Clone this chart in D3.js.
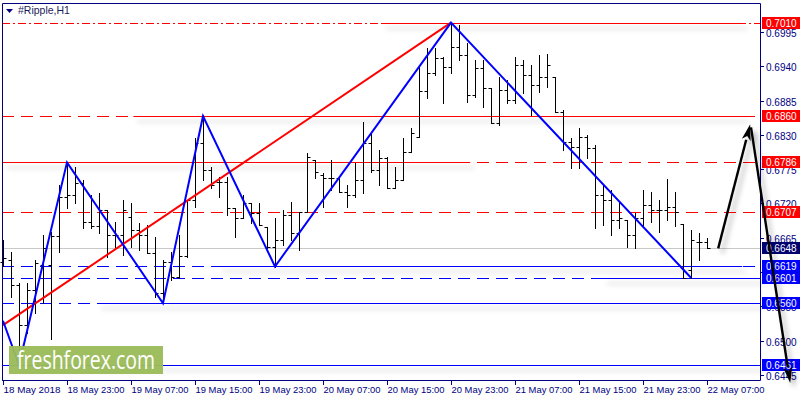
<!DOCTYPE html>
<html lang="en">
<head>
<meta charset="UTF-8">
<title>#Ripple,H1</title>
<script src="https://d3js.org/d3.v7.min.js"></script>
<style>
  body { margin: 0; background: #fff; }
  text { font-family: "Liberation Sans", Arial, sans-serif; }
</style>
</head>
<body>
<script>
// hourly bars, 18 May 15:00 .. 22 May 07:00
var timeLabels = ["18 May 2018", "18 May 23:00", "19 May 07:00", "19 May 15:00", "19 May 23:00", "20 May 07:00",
                  "20 May 15:00", "20 May 23:00", "21 May 07:00", "21 May 15:00", "21 May 23:00", "22 May 07:00"];

var opens = [0.6626,0.6629,0.6589,0.6525,0.6581,0.6621,0.6621,0.6668,0.6731,0.6734,
             0.6753,0.6690,0.6684,0.6710,0.6670,0.6670,0.6698,0.6678,0.6670,0.6641,
             0.6576,0.6626,0.6602,0.6636,0.6726,0.6817,0.6774,0.6755,0.6755,0.6713,
             0.6697,0.6721,0.6705,0.6682,0.6650,0.6661,0.6702,0.6673,0.6707,0.6790,
             0.6766,0.6761,0.6761,0.6739,0.6734,0.6758,0.6817,0.6774,0.6793,0.6745,
             0.6758,0.6803,0.6827,0.6900,0.6929,0.6953,0.6939,0.6971,0.6958,0.6894,
             0.6937,0.6905,0.6849,0.6902,0.6886,0.6942,0.6926,0.6910,0.6923,0.6923,
             0.6867,0.6819,0.6811,0.6827,0.6809,0.6734,0.6726,0.6694,0.6694,0.6670,
             0.6697,0.6718,0.6710,0.6710,0.6715,0.6687,0.6613,0.6658,0.6658];
var highs = [0.6661,0.6642,0.6592,0.6592,0.6629,0.6670,0.6674,0.6750,0.6785,0.6779,
             0.6758,0.6734,0.6737,0.6710,0.6690,0.6726,0.6721,0.6689,0.6686,0.6666,
             0.6629,0.6642,0.6670,0.6726,0.6825,0.6862,0.6779,0.6763,0.6763,0.6713,
             0.6734,0.6721,0.6721,0.6682,0.6697,0.6710,0.6723,0.6707,0.6801,0.6790,
             0.6769,0.6790,0.6763,0.6750,0.6785,0.6851,0.6833,0.6806,0.6795,0.6779,
             0.6825,0.6841,0.6942,0.6969,0.6969,0.6955,0.7010,0.7006,0.6977,0.6950,
             0.6950,0.6905,0.6923,0.6918,0.6955,0.6950,0.6942,0.6958,0.6960,0.6923,
             0.6870,0.6825,0.6841,0.6830,0.6814,0.6750,0.6742,0.6723,0.6694,0.6705,
             0.6742,0.6739,0.6726,0.6760,0.6739,0.6687,0.6678,0.6673,0.6665];
var lows =  [0.6620,0.6570,0.6461,0.6512,0.6544,0.6560,0.6503,0.6642,0.6713,0.6721,
             0.6681,0.6681,0.6673,0.6634,0.6650,0.6637,0.6650,0.6645,0.6641,0.6570,
             0.6560,0.6597,0.6600,0.6634,0.6715,0.6758,0.6745,0.6731,0.6702,0.6666,
             0.6697,0.6689,0.6686,0.6649,0.6618,0.6653,0.6661,0.6645,0.6707,0.6761,
             0.6715,0.6742,0.6739,0.6715,0.6731,0.6737,0.6771,0.6750,0.6745,0.6745,
             0.6758,0.6803,0.6827,0.6889,0.6926,0.6881,0.6929,0.6950,0.6883,0.6891,
             0.6875,0.6849,0.6846,0.6881,0.6881,0.6897,0.6862,0.6899,0.6907,0.6867,
             0.6806,0.6777,0.6777,0.6793,0.6681,0.6686,0.6670,0.6681,0.6650,0.6649,
             0.6682,0.6690,0.6674,0.6694,0.6684,0.6600,0.6600,0.6629,0.6648];
var closes = [0.6633,0.6589,0.6525,0.6581,0.6625,0.6649,0.6668,0.6731,0.6734,0.6753,
              0.6690,0.6684,0.6710,0.6670,0.6670,0.6710,0.6678,0.6670,0.6641,0.6576,
              0.6626,0.6602,0.6636,0.6726,0.6817,0.6774,0.6750,0.6755,0.6713,0.6697,
              0.6721,0.6705,0.6686,0.6650,0.6661,0.6702,0.6673,0.6707,0.6795,0.6771,
              0.6761,0.6761,0.6739,0.6734,0.6758,0.6817,0.6774,0.6793,0.6745,0.6758,
              0.6803,0.6833,0.6900,0.6929,0.6953,0.6939,0.6971,0.6958,0.6894,0.6937,
              0.6905,0.6849,0.6902,0.6886,0.6942,0.6926,0.6910,0.6923,0.6942,0.6867,
              0.6819,0.6811,0.6827,0.6809,0.6734,0.6726,0.6694,0.6697,0.6670,0.6697,
              0.6718,0.6710,0.6710,0.6715,0.6707,0.6600,0.6661,0.6658,0.6648];

var priceTicks = [0.6445, 0.6500, 0.6555, 0.6610, 0.6665, 0.6720, 0.6775, 0.6830, 0.6885, 0.6940, 0.6995];

// horizontal levels; solid part given in bar units (time anchors of the trendline)
var levelPrices    = [0.7010, 0.6860, 0.6786, 0.6707, 0.6619, 0.6601, 0.6560, 0.6461];
var levelSide      = ["res", "res", "res", "res", "sup", "sup", "sup", "sup"];
var levelSolidFrom = [47.4, 16.3, -0.2, null, 26.9, 75.0, 11.8, -0.2];
var levelSolidTo   = [92.5, 92.7, 58.4, null, 92.4, 94.7, 94.7, 94.7];
var lastPrice = 0.6648;

// zigzag and trend line
var zigzagBars   = [0, 2, 8, 20, 25, 34, 56, 86];
var zigzagPrices = [0.6532, 0.6461, 0.6786, 0.6560, 0.6860, 0.6619, 0.7010, 0.6601];
var trendBars   = [0, 56];
var trendPrices = [0.6525, 0.7010];

// forecast arrows: [fromBar, fromPrice, toBar, toPrice]
var arrowUp   = [89.4, 0.6648, 93.4, 0.6847];
var arrowDown = [93.5, 0.6842, 98.4, 0.6432];

var W = 800, H = 400;
var plotLeft = 2, plotRight = 760, plotTop = 3, plotBottom = 380;
var navy = "#000080", red = "#ff0000", blue = "#0000ff";

var x = d3.scaleLinear().domain([0, 88]).range([3, 707]);
var y = d3.scaleLinear().domain([0.6445, 0.6995]).range([375, 32]);

var svg = d3.select("body").append("svg")
    .attr("width", W)
    .attr("height", H)
    .style("display", "block");

svg.append("rect").attr("width", W).attr("height", H).attr("fill", "#fff");

var defs = svg.append("defs");
defs.append("filter")
    .attr("id", "shadow")
    .attr("filterUnits", "userSpaceOnUse")
    .attr("x", 0).attr("y", 0).attr("width", W).attr("height", H)
  .append("feDropShadow")
    .attr("dx", 4).attr("dy", 5).attr("stdDeviation", 2.5)
    .attr("flood-color", "#000").attr("flood-opacity", 0.28);

function levelColor(i) { return levelSide[i] === "res" ? red : blue; }

// current price line
svg.append("line")
    .attr("x1", plotLeft).attr("x2", plotRight)
    .attr("y1", Math.round(y(lastPrice)) + 0.5).attr("y2", Math.round(y(lastPrice)) + 0.5)
    .attr("stroke", "#c8c8c8").attr("stroke-width", 1);

// dashed base of each level
levelPrices.forEach(function (p, i) {
    var yy = Math.round(y(p)) + 0.5;
    var dash = i === 0 ? "8,3,2,3" : (i === 7 ? null : "12,7");
    svg.append("line")
        .attr("x1", plotLeft).attr("x2", plotRight)
        .attr("y1", yy).attr("y2", yy)
        .attr("stroke", levelColor(i)).attr("stroke-width", 1)
        .attr("stroke-dasharray", dash);
});

// solid part of the levels, with shadow
levelPrices.forEach(function (p, i) {
    if (levelSolidFrom[i] === null) return;
    var yy = Math.round(y(p)) + 0.5;
    svg.append("line")
        .attr("x1", Math.max(plotLeft, x(levelSolidFrom[i])))
        .attr("x2", Math.min(plotRight, x(levelSolidTo[i])))
        .attr("y1", yy).attr("y2", yy)
        .attr("stroke", levelColor(i)).attr("stroke-width", 1)
        .attr("filter", "url(#shadow)");
});

// bars
var bars = svg.append("g").attr("stroke", "#000").attr("stroke-width", 1);
opens.forEach(function (o, i) {
    var bx = Math.round(x(i)) + 0.5;
    bars.append("line").attr("x1", bx).attr("x2", bx)
        .attr("y1", Math.round(y(highs[i]))).attr("y2", Math.round(y(lows[i])) + 1);
    var yo = Math.round(y(o)) + 0.5, yc = Math.round(y(closes[i])) + 0.5;
    bars.append("line").attr("x1", bx - 3).attr("x2", bx).attr("y1", yo).attr("y2", yo);
    bars.append("line").attr("x1", bx).attr("x2", bx + 3).attr("y1", yc).attr("y2", yc);
});

// trend line and zigzag
svg.append("path")
    .datum(trendBars.map(function (b, i) { return [x(b), y(trendPrices[i])]; }))
    .attr("d", d3.line())
    .attr("fill", "none").attr("stroke", red).attr("stroke-width", 2);

svg.append("path")
    .datum(zigzagBars.map(function (b, i) { return [x(b), y(zigzagPrices[i])]; }))
    .attr("d", d3.line())
    .attr("fill", "none").attr("stroke", blue).attr("stroke-width", 2)
    .attr("stroke-linejoin", "miter");

// logo
var logo = svg.append("g");
logo.append("rect")
    .attr("x", 9).attr("y", 346).attr("width", 154).attr("height", 28)
    .attr("fill", "#9bbb59").attr("opacity", 0.96);
logo.append("text")
    .attr("x", 17).attr("y", 369)
    .attr("fill", "#fff")
    .style("font-family", "'Open Sans', 'DejaVu Sans', sans-serif")
    .style("font-size", "25px")
    .attr("textLength", 138).attr("lengthAdjust", "spacingAndGlyphs")
    .text("freshforex.com");

// frame
svg.append("path")
    .attr("d", "M" + (plotLeft + 0.5) + "," + plotBottom + "V" + (plotTop + 0.5) + "H" + (plotRight + 0.5) +
               "V" + (plotBottom + 0.5) + "H" + plotLeft)
    .attr("fill", "none").attr("stroke", navy).attr("stroke-width", 1);

// right price axis (labels under the level boxes stay hidden, as in the terminal)
var yAxis = svg.append("g");
priceTicks.forEach(function (p) {
    var yy = Math.round(y(p)) + 0.5;
    yAxis.append("line").attr("x1", plotRight).attr("x2", plotRight + 4)
        .attr("y1", yy).attr("y2", yy).attr("stroke", navy);
    yAxis.append("text").attr("x", plotRight + 6).attr("y", yy + 4)
        .attr("fill", navy).style("font-size", "10px")
        .text(p.toFixed(4));
});

// bottom time axis
var xAxis = svg.append("g");
timeLabels.forEach(function (t, k) {
    var tx = Math.round(x(k * 8)) + 0.5;
    xAxis.append("line").attr("x1", tx).attr("x2", tx)
        .attr("y1", plotBottom).attr("y2", plotBottom + 5).attr("stroke", navy);
    xAxis.append("text").attr("x", tx).attr("y", plotBottom + 13)
        .attr("fill", navy).style("font-size", "9.5px")
        .attr("textLength", 57).attr("lengthAdjust", "spacingAndGlyphs")
        .text(t);
});

// price label boxes
function priceBox(p, fill) {
    var yy = Math.round(y(p));
    svg.append("rect").attr("x", plotRight + 2).attr("y", yy - 6)
        .attr("width", W - plotRight - 2).attr("height", 12).attr("fill", fill);
    svg.append("text").attr("x", plotRight + 6).attr("y", yy + 4)
        .attr("fill", "#fff").style("font-size", "10px")
        .text(p.toFixed(4));
}
levelPrices.forEach(function (p, i) { priceBox(p, levelColor(i)); });
priceBox(lastPrice, "#00006e");

// forecast arrows
function arrow(a) {
    var x1 = x(a[0]), y1 = y(a[1]), x2 = x(a[2]), y2 = y(a[3]);
    var ang = Math.atan2(y2 - y1, x2 - x1);
    var len = 16, half = 4.5;
    var bx = x2 - len * Math.cos(ang), by = y2 - len * Math.sin(ang);
    var g = svg.append("g").attr("filter", "url(#shadow)");
    g.append("line").attr("x1", x1).attr("y1", y1).attr("x2", bx).attr("y2", by)
        .attr("stroke", "#000").attr("stroke-width", 2.4);
    g.append("path")
        .attr("d", "M" + x2 + "," + y2 +
                   "L" + (bx - half * Math.sin(ang)) + "," + (by + half * Math.cos(ang)) +
                   "L" + (bx + 4 * Math.cos(ang)) + "," + (by + 4 * Math.sin(ang)) +
                   "L" + (bx + half * Math.sin(ang)) + "," + (by - half * Math.cos(ang)) + "Z")
        .attr("fill", "#000");
}
arrow(arrowUp);
arrow(arrowDown);

// title
svg.append("path").attr("d", "M6,9H13L9.5,13Z").attr("fill", navy);
svg.append("text").attr("x", 18).attr("y", 14)
    .attr("fill", "#1c1c5c").style("font-size", "10.5px")
    .text("#Ripple,H1");
</script>
</body>
</html>
